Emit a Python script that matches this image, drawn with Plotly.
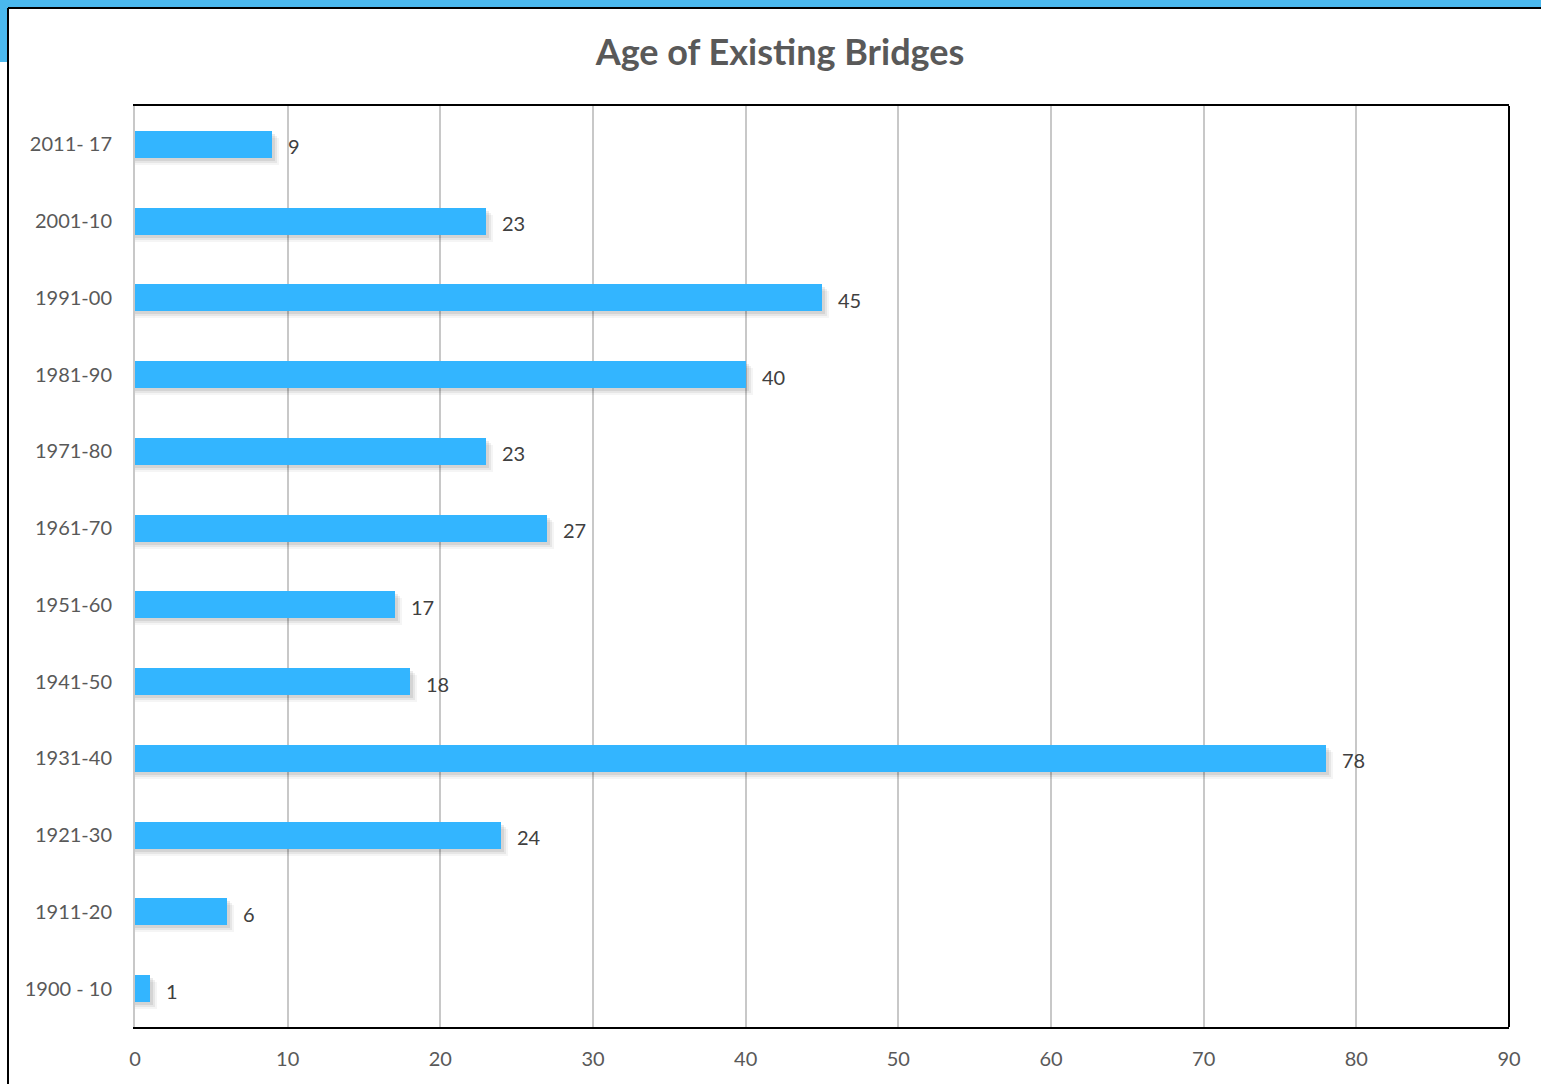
import plotly.graph_objects as go

categories = ["1900 - 10", "1911-20", "1921-30", "1931-40", "1941-50", "1951-60",
              "1961-70", "1971-80", "1981-90", "1991-00", "2001-10", "2011- 17"]
bridges = [1, 6, 24, 78, 18, 17, 27, 23, 40, 45, 23, 9]
x_ticks = [0, 10, 20, 30, 40, 50, 60, 70, 80, 90]

W, H = 1541, 1084
L, R, T, B = 135, 1509, 106, 1027
pw, ph = R - L, B - T

def px(xp):
    return (xp - L) / pw

def py(yp):
    return (B - yp) / ph

BW = 0.35
cat_px = ph / len(categories)
unit_px = pw / 90.0

fig = go.Figure()
# soft shadows under bars
for k, alpha in [(7, 0.04), (5, 0.06), (3, 0.08)]:
    fig.add_trace(go.Bar(
        y=categories, x=[v + k / unit_px for v in bridges], orientation="h",
        width=BW, offset=-BW / 2 - k / cat_px,
        marker=dict(color=f"rgba(0,0,0,{alpha})", line=dict(width=0)),
        hoverinfo="skip", showlegend=False))
fig.add_trace(go.Bar(
    y=categories, x=bridges, orientation="h", width=BW, offset=-BW / 2,
    marker=dict(color="#33B5FF", line=dict(width=0)),
    showlegend=False))

for c, v in zip(categories, bridges):
    fig.add_annotation(x=v, y=c, xref="x", yref="y", text=str(v), showarrow=False,
                       xanchor="left", yanchor="middle", xshift=14, yshift=-2,
                       font=dict(family="Lato", size=20, color="#404040"))

shapes = [
    # blue top strip & left block
    dict(type="rect", xref="paper", yref="paper", x0=px(0), x1=px(W), y0=py(7), y1=py(0),
         fillcolor="#4AB8EE", line=dict(width=0), layer="below"),
    dict(type="rect", xref="paper", yref="paper", x0=px(0), x1=px(8), y0=py(62), y1=py(0),
         fillcolor="#4AB8EE", line=dict(width=0), layer="below"),
    # outer black frame lines
    dict(type="line", xref="paper", yref="paper", x0=px(8), x1=px(W), y0=py(8), y1=py(8),
         line=dict(color="black", width=2)),
    dict(type="line", xref="paper", yref="paper", x0=px(8), x1=px(8), y0=py(8), y1=py(H),
         line=dict(color="black", width=2)),
    # right border of plot area
    dict(type="line", xref="paper", yref="paper", x0=1, x1=1, y0=0, y1=1,
         line=dict(color="black", width=2)),
]

fig.update_layout(
    width=W, height=H,
    margin=dict(l=L, r=W - R, t=T, b=H - B),
    paper_bgcolor="white", plot_bgcolor="white",
    barmode="overlay", bargap=0,
    shapes=shapes,
    title=dict(text="<b>Age of Existing Bridges</b>", x=780 / W, xref="container",
               xanchor="center", y=1 - 52 / H, yref="container", yanchor="middle",
               font=dict(family="Lato", size=36, color="#595959")),
    xaxis=dict(range=[0, 90], tickvals=x_ticks, ticktext=[str(t) for t in x_ticks],
               showgrid=True, gridcolor="#C8C8C8", gridwidth=2, automargin=False,
               zeroline=False, showline=True, linecolor="black", linewidth=2, mirror=True,
               ticks="", ticklabelstandoff=13,
               tickfont=dict(family="Lato", size=20, color="#595959")),
    yaxis=dict(type="category", categoryorder="array", categoryarray=categories,
               range=[-0.5, len(categories) - 0.5], automargin=False,
               showgrid=False, zeroline=False, showline=True, linecolor="#C8C8C8",
               linewidth=2, ticks="", ticklabelstandoff=17,
               tickfont=dict(family="Lato", size=20, color="#595959")),
)

fig.write_html("out.html")
